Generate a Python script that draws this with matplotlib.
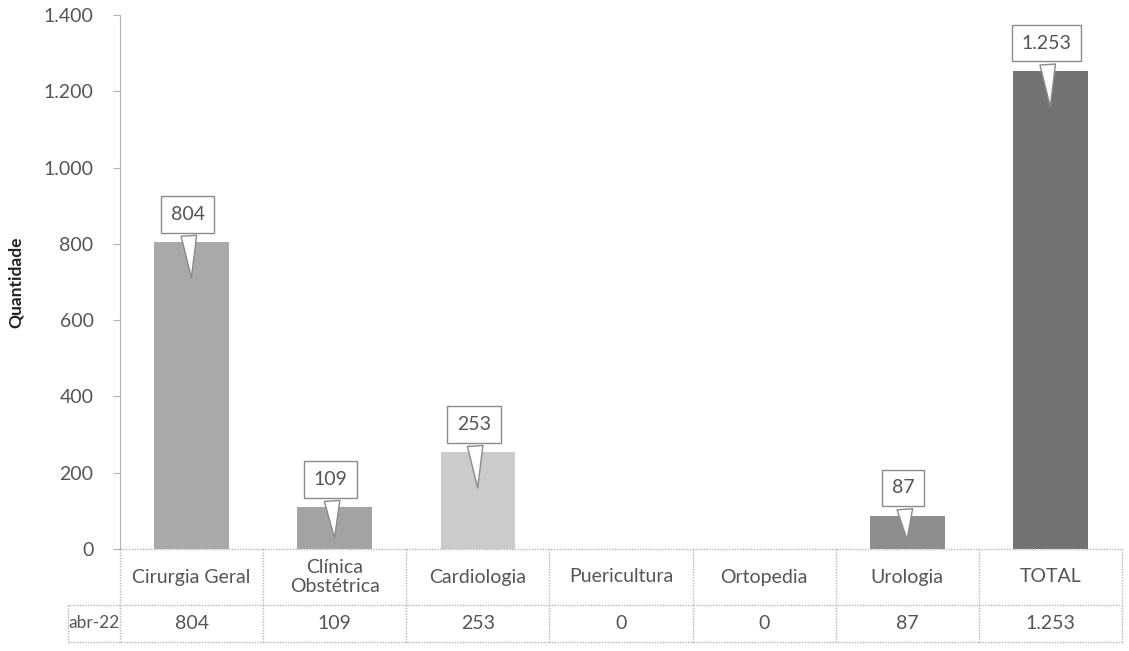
import matplotlib.pyplot as plt
import matplotlib.transforms as mtransforms
from matplotlib.ticker import FuncFormatter

categories = ['Cirurgia Geral', 'Clínica\nObstétrica', 'Cardiologia', 'Puericultura',
              'Ortopedia', 'Urologia', 'TOTAL']
values = [804, 109, 253, 0, 0, 87, 1253]
bar_colors = ['#a9a9a9', '#a3a3a3', '#cbcbcb', '#a0a0a0', '#a0a0a0', '#8e8e8e', '#737373']
row_label = 'abr-22'
yticks = [0, 200, 400, 600, 800, 1000, 1200, 1400]

plt.rcParams['font.family'] = ['Lato', 'DejaVu Sans']
txt = '#555555'
line = '#b5b5b5'


def fmt(v):
    return f'{int(v):,}'.replace(',', '.')


fig = plt.figure(figsize=(11.29, 6.51), dpi=100)
ax = fig.add_axes([120 / 1129, 1 - 549 / 651, 1002 / 1129, 534 / 651])

x = list(range(len(categories)))
ax.bar(x, values, width=0.52, color=bar_colors, zorder=2)

ax.set_xlim(-0.5, len(categories) - 0.5)
ax.set_ylim(0, 1400)
ax.set_yticks(yticks)
ax.yaxis.set_major_formatter(FuncFormatter(lambda v, p: fmt(v)))
ax.tick_params(axis='y', colors=line, labelcolor=txt, labelsize=14, length=5, pad=14)
ax.set_xticks([])
for s in ['top', 'right', 'bottom']:
    ax.spines[s].set_visible(False)
ax.spines['left'].set_color(line)
ax.set_ylabel('Quantidade', fontsize=12.5, fontweight='bold', color='#222222', labelpad=14)

# callouts: box sits above the bar, tail points down into it
px_per_unit = 534 / 1400
for xi, v in zip(x, values):
    if v <= 0:
        continue
    tip = max(v - 100, v * 0.2)
    ax.annotate(fmt(v), xy=(xi, tip), xycoords='data',
                xytext=(-4, (v - tip) * px_per_unit + 28), textcoords='offset pixels',
                ha='center', va='center', fontsize=14, color=txt, zorder=5,
                bbox=dict(boxstyle='square,pad=0.5', fc='white', ec='#8a8a8a', lw=1),
                arrowprops=dict(arrowstyle='wedge,tail_width=0.8,shrink_factor=0.5',
                                fc='white', ec='#8a8a8a', lw=1))

# data table under the axis
trans = mtransforms.blended_transform_factory(ax.transData, ax.transAxes)
h1 = 56 / 534
h2 = 37 / 534
left = -0.5 - 52 / 143.1
right = len(categories) - 0.5
kw = dict(transform=trans, color=line, lw=1, ls=(0, (1, 1)), clip_on=False)
ax.plot([-0.5, right], [0, 0], **kw)
ax.plot([left, right], [-h1, -h1], **kw)
ax.plot([left, right], [-h1 - h2, -h1 - h2], **kw)
ax.plot([left, left], [-h1, -h1 - h2], **kw)
for b in range(len(categories) + 1):
    ax.plot([b - 0.5, b - 0.5], [0, -h1 - h2], **kw)

for xi, c, v in zip(x, categories, values):
    ax.text(xi, -h1 / 2, c, transform=trans, ha='center', va='center',
            fontsize=14, color=txt, linespacing=1.2)
    ax.text(xi, -h1 - h2 / 2, fmt(v), transform=trans, ha='center', va='center',
            fontsize=14, color=txt)
ax.text((left - 0.5) / 2, -h1 - h2 / 2, row_label, transform=trans, ha='center',
        va='center', fontsize=12.5, color=txt)

fig.savefig('out.png', dpi=100)
